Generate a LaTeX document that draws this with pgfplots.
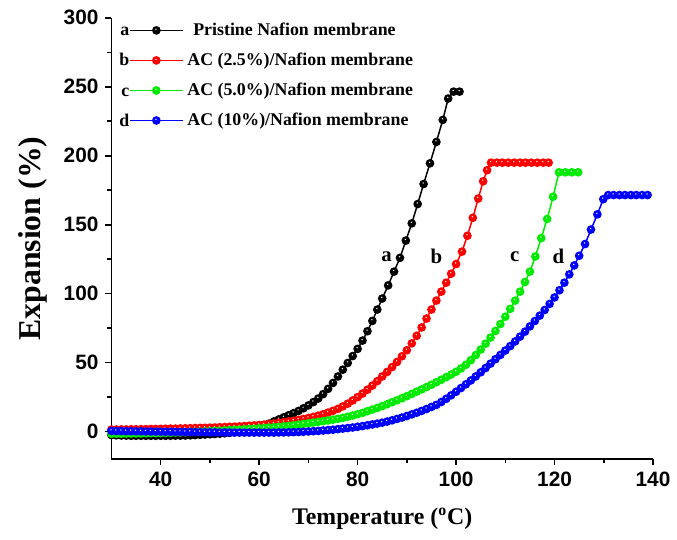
\documentclass[border=0pt]{standalone}
\usepackage{fontspec}
\setmainfont{Liberation Serif}
\setsansfont{Liberation Sans}
\usepackage{pgfplots}
\pgfplotsset{compat=1.18}

\pgfdeclareplotmark{ball}{%
  \pgfpathcircle{\pgfpointorigin}{\pgfplotmarksize}\pgfusepathqfill
  \begin{pgfscope}
  \pgfsetfillcolor{white}
  \pgfpathcircle{\pgfpoint{-0.1\pgfplotmarksize}{0.25\pgfplotmarksize}}{0.17\pgfplotmarksize}\pgfusepathqfill
  \end{pgfscope}}

\pgfplotsset{lettered/.style={legend image code/.code={%
   \node[anchor=base east,inner sep=0pt,text=black,font=\fontsize{9}{10}\selectfont\bfseries] at (0pt,-2.8pt) {#1};
   \draw[mark repeat=2,mark phase=2,##1] plot coordinates {(0pt,0pt) (13.25pt,0pt) (26.5pt,0pt)};}}}

\definecolor{cgreen}{RGB}{0,235,0}
\definecolor{cblue}{RGB}{0,0,255}
\definecolor{cred}{RGB}{255,0,0}

\begin{document}
\begin{tikzpicture}
\begin{axis}[
  scale only axis, width=273pt, height=222.5pt,
  every non boxed x axis/.append style={x axis line style={-}},
  every non boxed y axis/.append style={y axis line style={-}},
  axis x line*=bottom, axis y line*=left,
  x axis line style={-}, y axis line style={-},
  axis line style={line width=0.8pt},
  xmin=30, xmax=140, ymin=-20, ymax=300,
  xtick={40,60,...,140}, ytick={0,50,...,300},
  minor x tick num=1, minor y tick num=1,
  xtick align=outside, ytick align=outside,
  major tick length=3pt, minor tick length=2pt,
  every tick/.style={line width=0.8pt, black},
  ticklabel style={font=\fontsize{10.5}{12}\sffamily\bfseries},
  /pgf/number format/assume math mode=true,
  xlabel={Temperature (\textsuperscript{o}C)},
  ylabel={Expansion (\%)},
  xlabel style={font=\fontsize{12}{14}\selectfont\bfseries, at={(axis description cs:0.5,-0.135)}, anchor=center},
  ylabel style={font=\fontsize{16}{18}\selectfont\bfseries, at={(axis description cs:-0.146,0.5)}, anchor=center},
  clip=false,
  legend style={at={(axis description cs:0.014,0.999)}, anchor=north west, draw=none, fill=none,
    font=\fontsize{9}{10}\selectfont\bfseries, row sep=3.3pt, inner sep=0pt},
  legend cell align=left,
  every axis plot/.append style={line width=0.75pt},
]
\pgfplotsset{every mark/.append style={mark size=2.2pt}}
\addplot[color=black, mark=ball, mark size=2.2pt, lettered=a] table {
30 -2.5
31 -2.7
32 -2.8
33 -2.9
34 -3.0
35 -3.0
36 -3.0
37 -3.0
38 -3.0
39 -3.0
40 -3.0
41 -3.0
42 -3.0
43 -2.9
44 -2.9
45 -2.8
46 -2.7
47 -2.5
48 -2.3
49 -2.1
50 -1.9
51 -1.7
52 -1.5
53 -1.2
54 -0.9
55 -0.5
56 0.0
57 0.6
58 1.3
59 2.2
60 3.2
61 4.4
62 5.8
63 7.4
64 8.9
65 10.4
66 11.9
67 13.4
68 15.0
69 16.9
70 19.0
71 21.4
72 24.0
73 27.2
74 31.0
75 35.3
76 40.0
77 44.9
78 49.8
79 54.8
80 60.0
81 66.0
82 72.8
83 80.3
84 88.5
85 96.5
86.2 106
87.4 116
88.6 126
89.8 138.5
91.0 151
92.2 165
93.4 179.5
94.7 194.5
96.0 210
97.3 226
98.4 241.5
99.5 246.5
100.7 246.5
};
\addlegendentry{\hspace{3pt}Pristine Nafion membrane}
\addplot[color=cred, mark=ball, mark size=2.2pt, lettered=b] table {
30 1.5
31 1.5
32 1.6
33 1.6
34 1.7
35 1.7
36 1.8
37 1.8
38 1.9
39 1.9
40 2.0
41 2.1
42 2.2
43 2.2
44 2.3
45 2.4
46 2.5
47 2.6
48 2.7
49 2.8
50 2.9
51 3.0
52 3.2
53 3.3
54 3.5
55 3.6
56 3.8
57 4.0
58 4.3
59 4.5
60 4.8
61 5.1
62 5.5
63 5.9
64 6.4
65 6.9
66 7.4
67 7.9
68 8.5
69 9.2
70 9.9
71 10.7
72 11.6
73 12.6
74 13.8
75 15.1
76 16.5
77 18.3
78 20.3
79 22.6
80 25.0
81 27.6
82 30.4
83 33.4
84 36.6
85 40.0
86 43.3
87 46.8
88 50.5
89 54.6
90 59.0
91 64.0
92 69.5
93 75.5
94 82.0
95 88.5
96 95.0
97 101.5
98 108.0
99 114.5
100 121.5
101.2 130.5
102.3 142
103.4 155
104.5 169
105.5 181.5
106.3 189.5
107.1 195
108.3 195
109.4 195
110.6 195
111.8 195
113.0 195
114.1 195
115.3 195
116.5 195
117.7 195
118.8 195
};
\addlegendentry{AC (2.5\%)/Nafion membrane}
\addplot[color=cgreen, mark=ball, mark size=2.2pt, lettered=c] table {
30 -1.5
31 -1.5
32 -1.5
33 -1.4
34 -1.4
35 -1.3
36 -1.3
37 -1.2
38 -1.1
39 -1.1
40 -1.0
41 -0.9
42 -0.8
43 -0.7
44 -0.6
45 -0.5
46 -0.3
47 -0.2
48 0.0
49 0.1
50 0.3
51 0.5
52 0.7
53 0.9
54 1.1
55 1.3
56 1.5
57 1.7
58 1.9
59 2.1
60 2.4
61 2.6
62 2.9
63 3.1
64 3.5
65 3.8
66 4.2
67 4.6
68 5.1
69 5.6
70 6.1
71 6.6
72 7.1
73 7.6
74 8.1
75 8.7
76 9.3
77 10.0
78 10.8
79 11.7
80 12.6
81 13.6
82 14.8
83 16.0
84 17.2
85 18.5
86 19.9
87 21.3
88 22.7
89 24.2
90 25.7
91 27.3
92 29.0
93 30.6
94 32.3
95 34.0
96 35.8
97 37.6
98 39.5
99 41.4
100 43.4
101 45.8
102 48.5
103 51.8
104 55.5
105 59.5
106 63.8
107 68.2
108 73.0
109 78.0
110 83.3
111 89.0
112 95.0
113 101.5
114 108.5
115 116.0
116.1 127
117.3 140.3
118.5 154.2
119.7 170.3
120.9 188
122.2 188
123.5 188
124.8 188
};
\addlegendentry{AC (5.0\%)/Nafion membrane}
\addplot[color=cblue, mark=ball, mark size=2.2pt, lettered=d] table {
30 0.5
31 0.4
32 0.4
33 0.3
34 0.3
35 0.2
36 0.2
37 0.1
38 0.1
39 0.0
40 0.0
41 -0.1
42 -0.1
43 -0.2
44 -0.2
45 -0.3
46 -0.3
47 -0.4
48 -0.4
49 -0.5
50 -0.5
51 -0.5
52 -0.6
53 -0.6
54 -0.6
55 -0.7
56 -0.7
57 -0.7
58 -0.7
59 -0.7
60 -0.7
61 -0.7
62 -0.7
63 -0.7
64 -0.6
65 -0.6
66 -0.5
67 -0.4
68 -0.3
69 -0.1
70 0.1
71 0.3
72 0.5
73 0.8
74 1.1
75 1.4
76 1.8
77 2.2
78 2.6
79 3.0
80 3.5
81 4.0
82 4.6
83 5.2
84 5.8
85 6.5
86 7.3
87 8.2
88 9.2
89 10.2
90 11.3
91 12.5
92 13.7
93 15.0
94 16.4
95 17.9
96 19.4
97 21.5
98 23.8
99 26.3
100 28.9
101 31.6
102 34.3
103 37.1
104 40.0
105 43.0
106 46.1
107 49.3
108 52.5
109 55.6
110 58.8
111 62.0
112 65.4
113 68.9
114 72.5
115 76.3
116 80.2
117 84.1
118 88.2
119 92.6
120 97.3
121 102.5
122 108.0
123 114.0
124 120.5
125 127.5
126.2 136
127.4 146.5
128.7 157.5
129.9 168.5
130.9 171.5
132.0 171.5
133.2 171.5
134.3 171.5
135.5 171.5
136.6 171.5
137.8 171.5
138.9 171.5
};
\addlegendentry{AC (10\%)/Nafion membrane}
\node[font=\fontsize{10.5}{12}\selectfont\bfseries] at (axis cs:85.9,127) {a};
\node[font=\fontsize{10.5}{12}\selectfont\bfseries] at (axis cs:96.0,127) {b};
\node[font=\fontsize{10.5}{12}\selectfont\bfseries] at (axis cs:111.9,127) {c};
\node[font=\fontsize{10.5}{12}\selectfont\bfseries] at (axis cs:120.8,127) {d};
\coordinate (BL) at (axis description cs:-0.2058,-0.182);
\coordinate (TR) at (axis description cs:1.0339,1.0404);
\end{axis}
\useasboundingbox (BL) rectangle (TR);
\end{tikzpicture}
\end{document}
